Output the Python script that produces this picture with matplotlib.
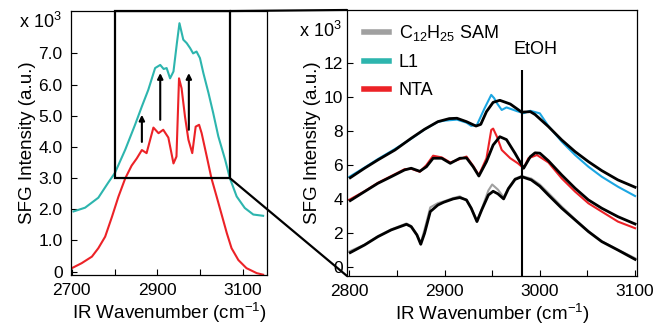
import matplotlib
matplotlib.use("Agg")
import matplotlib.pyplot as plt
from matplotlib.lines import Line2D
from matplotlib.patches import ConnectionPatch, Rectangle

plt.rcParams["font.family"] = ["Liberation Sans", "DejaVu Sans"]
plt.rcParams["mathtext.fontset"] = "custom"
plt.rcParams["mathtext.rm"] = "Liberation Sans"
plt.rcParams["mathtext.it"] = "Liberation Sans:italic"
plt.rcParams["mathtext.bf"] = "Liberation Sans:bold"

# ---- Data (x 10^3) -------------------------------------------------------
# left panel: full spectra
l1_wn = [2704, 2731, 2762, 2785, 2801, 2825, 2848, 2864, 2879, 2895, 2907,
         2915, 2922, 2930, 2938, 2946, 2952, 2961, 2969, 2977, 2984, 2992,
         3000, 3008, 3020, 3031, 3043, 3059, 3070, 3086, 3105, 3125, 3148]
l1_full = [1.93, 2.05, 2.37, 2.85, 3.17, 3.91, 4.71, 5.30, 5.83, 6.53, 6.63,
           6.50, 6.53, 6.20, 6.42, 7.33, 7.97, 7.44, 7.33, 7.17, 7.00, 7.06,
           6.85, 6.37, 5.73, 5.09, 4.34, 3.59, 3.00, 2.41, 2.04, 1.83, 1.79]

nta_wn = [2700, 2723, 2747, 2762, 2778, 2794, 2809, 2825, 2840, 2852, 2864,
          2875, 2891, 2903, 2914, 2926, 2938, 2945, 2951, 2957, 2965, 2973,
          2982, 2990, 2998, 3004, 3016, 3027, 3039, 3051, 3063, 3074, 3090,
          3109, 3133, 3148]
nta_full = [0.11, 0.27, 0.48, 0.75, 1.12, 1.76, 2.40, 2.99, 3.40, 3.63, 3.90,
            3.80, 4.62, 4.44, 4.55, 4.30, 3.47, 3.69, 6.20, 5.88, 4.97, 4.23,
            3.80, 4.65, 4.71, 4.44, 3.69, 2.99, 2.41, 1.82, 1.23, 0.75, 0.37,
            0.11, -0.05, -0.10]

# arrows: wavenumber, start, end
arrow_wn = [2864, 2907, 2974]
arrow_from = [4.16, 4.87, 4.55]
arrow_to = [5.03, 6.37, 6.37]

# right panel: zoomed data and fits
l1_x = [2800, 2816, 2830, 2848, 2865, 2879, 2893, 2900, 2913, 2923, 2928,
        2934, 2942, 2949, 2952, 2955, 2960, 2965, 2970, 2976, 2983, 2990,
        3000, 3009, 3023, 3037, 3051, 3065, 3082, 3100]
l1_data = [5.30, 5.85, 6.35, 6.95, 7.55, 8.10, 8.55, 8.62, 8.68, 8.50, 8.31,
           8.37, 9.35, 10.14, 9.95, 9.65, 9.25, 9.40, 9.30, 9.18, 9.06, 9.20,
           9.05, 8.30, 7.38, 6.59, 5.90, 5.31, 4.72, 4.17]
l1_fx = [2801, 2816, 2830, 2848, 2865, 2879, 2893, 2905, 2913, 2923, 2933,
         2938, 2944, 2951, 2958, 2969, 2981, 2990, 2995, 3009, 3023, 3037,
         3051, 3065, 3082, 3100]
l1_fit = [5.25, 5.81, 6.30, 6.89, 7.58, 8.11, 8.56, 8.74, 8.76, 8.56, 8.30,
          8.40, 9.15, 9.70, 9.82, 9.60, 9.12, 9.15, 8.98, 8.27, 7.48, 6.79,
          6.20, 5.67, 5.12, 4.69]

nta_x = [2800, 2816, 2830, 2844, 2858, 2865, 2874, 2881, 2888, 2897, 2906,
         2916, 2923, 2930, 2936, 2944, 2949, 2951, 2955, 2960, 2969, 2977,
         2983, 2988, 2997, 3009, 3023, 3037, 3051, 3065, 3082, 3100]
nta_data = [3.95, 4.45, 4.95, 5.35, 5.75, 5.78, 5.60, 6.00, 6.55, 6.45, 6.15,
            6.35, 6.50, 5.95, 5.40, 6.40, 8.07, 8.15, 7.67, 6.89, 6.40, 6.10,
            5.81, 6.40, 6.59, 6.15, 5.21, 4.43, 3.74, 3.25, 2.66, 2.27]
nta_fx = [2801, 2816, 2830, 2844, 2858, 2865, 2874, 2881, 2888, 2897, 2906,
          2916, 2923, 2930, 2936, 2944, 2951, 2958, 2965, 2974, 2983, 2990,
          2995, 3000, 3009, 3023, 3037, 3051, 3065, 3082, 3100]
nta_fit = [3.90, 4.43, 4.92, 5.31, 5.71, 5.81, 5.63, 5.90, 6.40, 6.40, 6.10,
           6.40, 6.42, 5.90, 5.35, 6.20, 7.18, 7.67, 7.50, 6.69, 5.81, 6.49,
           6.72, 6.70, 6.25, 5.41, 4.63, 3.94, 3.45, 2.95, 2.52]

sam_x = [2800, 2816, 2830, 2844, 2860, 2865, 2871, 2875, 2879, 2885, 2893,
         2899, 2909, 2916, 2923, 2928, 2934, 2939, 2946, 2950, 2956, 2962,
         2967, 2974, 2981, 2991, 3000, 3009, 3023, 3037, 3051, 3065, 3082, 3100]
sam_data = [0.90, 1.30, 1.80, 2.20, 2.55, 2.40, 1.90, 1.40, 2.20, 3.50, 3.75,
            3.85, 4.05, 4.15, 3.90, 3.45, 2.70, 3.40, 4.50, 4.85, 4.55, 4.10,
            4.65, 5.20, 5.35, 5.20, 4.85, 4.35, 3.55, 2.80, 2.10, 1.50, 1.00,
            0.50]
sam_fx = [2801, 2816, 2830, 2844, 2860, 2865, 2871, 2875, 2879, 2885, 2893,
          2899, 2909, 2916, 2923, 2928, 2934, 2939, 2946, 2951, 2956, 2962,
          2967, 2974, 2981, 2991, 3000, 3009, 3023, 3037, 3051, 3065, 3082, 3100]
sam_fit = [0.83, 1.28, 1.77, 2.17, 2.50, 2.36, 1.87, 1.32, 1.97, 3.25, 3.64,
           3.80, 4.00, 4.08, 3.94, 3.45, 2.66, 3.35, 4.23, 4.45, 4.30, 4.00,
           4.60, 5.15, 5.31, 5.12, 4.75, 4.23, 3.45, 2.76, 2.07, 1.48, 0.98,
           0.43]

etoh_wn = 2981
legend_labels = ["C$_{12}$H$_{25}$ SAM", "L1", "NTA"]

TEAL = "#2DB5AE"
BLUE = "#1CA6E2"
RED = "#EC2227"
GRAY = "#A0A0A0"

# ---- Figure --------------------------------------------------------------
fig = plt.figure(figsize=(6.55, 3.27), dpi=100)
ax1 = fig.add_axes([0.1084, 0.159, 0.2992, 0.8073])
ax2 = fig.add_axes([0.5298, 0.156, 0.4427, 0.8134])

# left panel
ax1.plot(l1_wn, l1_full, color=TEAL, lw=1.5)
ax1.plot(nta_wn, nta_full, color=RED, lw=1.5)
for x, y0, y1 in zip(arrow_wn, arrow_from, arrow_to):
    ax1.annotate("", xy=(x, y1), xytext=(x, y0),
                 arrowprops=dict(arrowstyle="-|>", color="black", lw=1.5,
                                 mutation_scale=8, shrinkA=0, shrinkB=0))

ax1.set_xlim(2698, 3157)
ax1.set_ylim(-0.11, 8.36)
ax1.set_xticks([2700, 2800, 2900, 3000, 3100])
ax1.set_xticklabels(["2700", "", "2900", "", "3100"])
ax1.set_yticks(range(8))
ax1.set_yticklabels(["0"] + [f"{v:.1f}" for v in range(1, 8)])
ax1.text(-0.05, 8.0, "x 10$^3$", transform=ax1.get_yaxis_transform(),
         ha="right", va="center", fontsize=13)

rect = Rectangle((2801, 3.0), 3070 - 2801, 8.36 - 3.0, fill=False,
                 ec="black", lw=1.6, clip_on=False, zorder=5)
ax1.add_patch(rect)

# right panel
ax2.plot(l1_x, l1_data, color=BLUE, lw=1.5)
ax2.plot(nta_x, nta_data, color=RED, lw=1.5)
ax2.plot(sam_x, sam_data, color=GRAY, lw=1.5)
ax2.plot(l1_fx, l1_fit, color="black", lw=2)
ax2.plot(nta_fx, nta_fit, color="black", lw=2)
ax2.plot(sam_fx, sam_fit, color="black", lw=2)
ax2.vlines(etoh_wn, -0.55, 11.6, color="black", lw=1.5)
ax2.text(2995, 12.8, "EtOH", ha="center", va="center", fontsize=13)

ax2.set_xlim(2797.6, 3102)
ax2.set_ylim(-0.55, 15.15)
ax2.set_xticks(range(2800, 3101, 50))
ax2.set_xticklabels([str(v) if v % 100 == 0 else "" for v in range(2800, 3101, 50)])
ax2.set_yticks(range(0, 13, 2))
ax2.text(-0.017, 13.9, "x 10$^3$", transform=ax2.get_yaxis_transform(),
         ha="right", va="center", fontsize=13)

handles = [Line2D([], [], color=GRAY, lw=4),
           Line2D([], [], color=TEAL, lw=4),
           Line2D([], [], color=RED, lw=4)]
ax2.legend(handles, legend_labels, loc="upper left",
           bbox_to_anchor=(0.06, 0.95), frameon=False, fontsize=13,
           handlelength=1.35, handletextpad=0.55, labelspacing=0.6,
           borderpad=0, borderaxespad=0)

for ax in (ax1, ax2):
    ax.tick_params(direction="in", length=4, width=0.8, labelsize=12.5, pad=6)
    ax.set_xlabel("IR Wavenumber (cm$^{-1}$)", fontsize=13.5, labelpad=2)
    ax.set_ylabel("SFG Intensity (a.u.)", fontsize=13.5, labelpad=2)
    for s in ax.spines.values():
        s.set_linewidth(0.9)
ax2.tick_params(axis="y", pad=3)

# zoom connectors
for ya, yb in [(8.36, 1.0), (3.0, 0.0)]:
    con = ConnectionPatch(xyA=(3070, ya), coordsA=ax1.transData,
                          xyB=(0.0, yb), coordsB=ax2.transAxes,
                          color="black", lw=1.6)
    fig.add_artist(con)

fig.savefig("out.png", dpi=100)
